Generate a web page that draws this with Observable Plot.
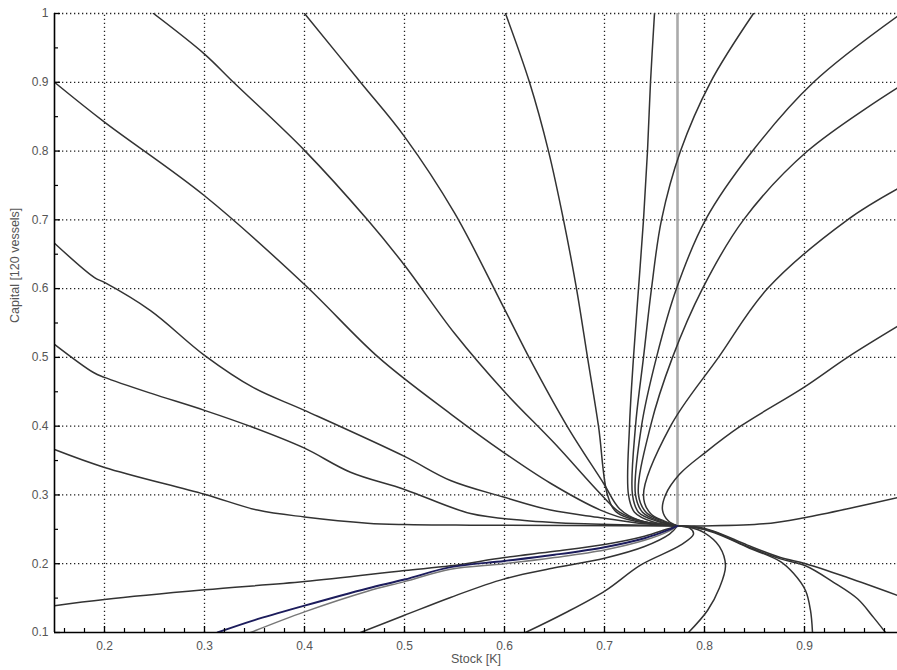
<!DOCTYPE html>
<html><head><meta charset="utf-8">
<script src="https://cdn.jsdelivr.net/npm/d3@7"></script>
<script src="https://cdn.jsdelivr.net/npm/@observablehq/plot@0.6"></script>
<style>html,body{margin:0;padding:0;background:#fff}</style>
</head><body><div id="chart"></div>
<script>
// axis ticks
const xTicks = [0.2, 0.3, 0.4, 0.5, 0.6, 0.7, 0.8, 0.9];
const yTicks = [0.1, 0.2, 0.3, 0.4, 0.5, 0.6, 0.7, 0.8, 0.9, 1];
const xMinor = [0.16, 0.18, 0.22, 0.24, 0.26, 0.28, 0.32, 0.34, 0.36, 0.38, 0.42, 0.44, 0.46, 0.48,
  0.52, 0.54, 0.56, 0.58, 0.62, 0.64, 0.66, 0.68, 0.72, 0.74, 0.76, 0.78, 0.82, 0.84, 0.86, 0.88,
  0.92, 0.94, 0.96, 0.98];
const yMinor = [0.15, 0.25, 0.35, 0.45, 0.55, 0.65, 0.75, 0.85, 0.95];
const xDomain = [0.15, 0.993];
const yDomain = [0.1, 1];

// stable manifold (gray vertical) through the equilibrium
const manifold = [[0.773, 0.255], [0.773, 1.0]];

// trajectories [stock, capital]
const trajA = [[0.249,1.0],[0.3,0.941],[0.329,0.9],[0.4,0.801],[0.463,0.70],[0.5,0.634],[0.55,0.535],[0.6,0.45],[0.65,0.375],[0.697,0.30],[0.715,0.275],[0.74,0.261],[0.773,0.255]];
const trajB = [[0.15,0.9],[0.2,0.842],[0.3,0.735],[0.4,0.606],[0.474,0.5],[0.546,0.418],[0.599,0.362],[0.646,0.317],[0.696,0.278],[0.73,0.262],[0.773,0.255]];
const trajC = [[0.15,0.666],[0.19,0.616],[0.2,0.609],[0.246,0.568],[0.3,0.503],[0.349,0.456],[0.4,0.423],[0.5,0.356],[0.546,0.321],[0.599,0.297],[0.646,0.278],[0.696,0.267],[0.74,0.258],[0.773,0.255]];
const trajD = [[0.15,0.519],[0.189,0.478],[0.2,0.471],[0.246,0.448],[0.3,0.423],[0.349,0.398],[0.4,0.368],[0.446,0.333],[0.5,0.308],[0.566,0.273],[0.62,0.263],[0.68,0.258],[0.773,0.255]];
const trajE = [[0.15,0.366],[0.2,0.340],[0.3,0.301],[0.353,0.278],[0.4,0.268],[0.463,0.259],[0.5,0.257],[0.566,0.256],[0.773,0.255]];
const trajF = [[0.4,1.0],[0.456,0.9],[0.5,0.821],[0.55,0.71],[0.599,0.573],[0.626,0.496],[0.663,0.399],[0.699,0.317],[0.715,0.28],[0.735,0.263],[0.773,0.255]];
const trajG = [[0.601,1.0],[0.625,0.9],[0.644,0.8],[0.659,0.7],[0.672,0.6],[0.683,0.5],[0.694,0.4],[0.703,0.3],[0.712,0.275],[0.735,0.262],[0.773,0.255]];
const trajH = [[0.75,1.0],[0.746,0.9],[0.743,0.8],[0.739,0.7],[0.734,0.6],[0.729,0.5],[0.725,0.4],[0.724,0.3],[0.73,0.275],[0.748,0.261],[0.773,0.255]];
const trajJ = [[0.849,1.0],[0.806,0.9],[0.776,0.8],[0.757,0.7],[0.747,0.6],[0.739,0.5],[0.731,0.4],[0.728,0.3],[0.734,0.275],[0.752,0.262],[0.773,0.255]];
const trajK = [[0.993,0.996],[0.909,0.9],[0.848,0.8],[0.801,0.7],[0.772,0.6],[0.752,0.5],[0.737,0.4],[0.731,0.3],[0.738,0.275],[0.755,0.262],[0.773,0.255]];
const trajL = [[0.993,0.892],[0.903,0.8],[0.839,0.7],[0.798,0.6],[0.768,0.5],[0.746,0.4],[0.734,0.3],[0.742,0.274],[0.758,0.262],[0.773,0.255]];
const trajM = [[0.993,0.745],[0.943,0.7],[0.863,0.6],[0.814,0.5],[0.766,0.4],[0.739,0.3],[0.746,0.273],[0.76,0.262],[0.773,0.255]];
const trajN = [[0.993,0.545],[0.943,0.5],[0.899,0.456],[0.836,0.4],[0.801,0.362],[0.775,0.33],[0.761,0.3],[0.758,0.278],[0.764,0.262],[0.773,0.255]];
const trajO = [[0.993,0.296],[0.95,0.282],[0.9,0.267],[0.859,0.258],[0.8,0.255],[0.773,0.255]];
const trajP = [[0.15,0.139],[0.2,0.148],[0.3,0.162],[0.4,0.174],[0.5,0.19],[0.546,0.197],[0.6,0.209],[0.65,0.218],[0.7,0.228],[0.74,0.24],[0.762,0.25],[0.773,0.255]];
const trajQ = [[0.313,0.1],[0.35,0.118],[0.4,0.139],[0.463,0.164],[0.5,0.177],[0.546,0.195],[0.6,0.204],[0.65,0.213],[0.7,0.224],[0.74,0.237],[0.762,0.248],[0.773,0.255]];
const trajQ2 = [[0.346,0.1],[0.4,0.130],[0.463,0.16],[0.5,0.174],[0.546,0.192],[0.6,0.2],[0.65,0.209],[0.7,0.22],[0.74,0.234],[0.764,0.247],[0.773,0.255]];
const trajR = [[0.456,0.1],[0.5,0.125],[0.546,0.151],[0.6,0.178],[0.65,0.194],[0.7,0.208],[0.74,0.225],[0.765,0.243],[0.773,0.255]];
const trajS = [[0.621,0.1],[0.66,0.128],[0.701,0.161],[0.736,0.198],[0.776,0.227],[0.789,0.243],[0.785,0.252],[0.773,0.255]];
const trajT = [[0.784,0.1],[0.803,0.132],[0.815,0.165],[0.821,0.197],[0.815,0.225],[0.8,0.245],[0.785,0.253],[0.773,0.255]];
const trajU = [[0.908,0.1],[0.906,0.132],[0.901,0.161],[0.889,0.186],[0.876,0.203],[0.843,0.224],[0.81,0.245],[0.79,0.253],[0.773,0.255]];
const trajV = [[0.981,0.1],[0.969,0.122],[0.953,0.149],[0.929,0.173],[0.901,0.197],[0.876,0.207],[0.843,0.225],[0.81,0.246],[0.79,0.253],[0.773,0.255]];
const trajW = [[0.993,0.154],[0.943,0.18],[0.901,0.2],[0.876,0.209],[0.843,0.227],[0.81,0.247],[0.79,0.254],[0.773,0.255]];

const darkTrajectories = [trajA, trajB, trajC, trajD, trajE, trajF, trajG, trajH, trajJ, trajK, trajL,
  trajM, trajN, trajO, trajP, trajR, trajS, trajT, trajU, trajV, trajW];

const W = 897, H = 670;
const mL = 54, mR = 0, mT = 13, mB = 38;
const xPerPx = (xDomain[1] - xDomain[0]) / (W - mL - mR);
const yPerPx = (yDomain[1] - yDomain[0]) / (H - mT - mB);
const majorLen = 6, minorLen = 4;

const lineOpts = {x: d => d[0], y: d => d[1], curve: "catmull-rom", stroke: "#333", strokeWidth: 1.5, clip: true};
const gridOpts = {stroke: "#222", strokeWidth: 1.3, strokeDasharray: "1.3,2.7"};

const marks = [
  Plot.ruleX(xTicks, {x: d => d, y1: yDomain[0], y2: yDomain[1], ...gridOpts}),
  Plot.ruleY(yTicks.filter(d => d > yDomain[0]), {y: d => d, x1: xDomain[0], x2: xDomain[1], ...gridOpts}),
  Plot.line(manifold, {...lineOpts, stroke: "#aaa", strokeWidth: 2.6, curve: "linear"}),
  ...darkTrajectories.map(t => Plot.line(t, lineOpts)),
  Plot.line(trajQ2, {...lineOpts, stroke: "#777"}),
  Plot.line(trajQ, {...lineOpts, stroke: "#1c1c5c", strokeWidth: 1.9}),
  // inward ticks
  Plot.ruleX(xTicks, {x: d => d, y1: yDomain[0], y2: yDomain[0] + majorLen * yPerPx, stroke: "#000", strokeWidth: 1.3}),
  Plot.ruleX(xMinor, {x: d => d, y1: yDomain[0], y2: yDomain[0] + minorLen * yPerPx, stroke: "#000", strokeWidth: 1.2}),
  Plot.ruleY(yTicks, {y: d => d, x1: xDomain[0], x2: xDomain[0] + majorLen * xPerPx, stroke: "#000", strokeWidth: 1.3}),
  Plot.ruleY(yMinor, {y: d => d, x1: xDomain[0], x2: xDomain[0] + minorLen * xPerPx, stroke: "#000", strokeWidth: 1.2}),
  // axis lines
  Plot.ruleX([xDomain[0]], {x: d => d, y1: yDomain[0], y2: yDomain[1], stroke: "#000", strokeWidth: 1.6}),
  Plot.ruleY([yDomain[0]], {y: d => d, x1: xDomain[0], x2: xDomain[1], stroke: "#000", strokeWidth: 1.6}),
  Plot.axisX({ticks: xTicks, tickSize: 0, tickPadding: 9, tickFormat: d => String(d), label: null, fill: "#555", fontSize: 12}),
  Plot.axisY({ticks: yTicks, tickSize: 0, tickPadding: 6, tickFormat: d => String(d), label: null, fill: "#555", fontSize: 12}),
  Plot.text(["Stock [K]"], {text: d => d, frameAnchor: "bottom", dy: 30, fill: "#555", fontSize: 12.5}),
  Plot.text(["Capital [120 vessels]"], {text: d => d, frameAnchor: "left", dx: -40, rotate: -90, fill: "#555", fontSize: 12.5})
];

const chart = Plot.plot({
  width: W, height: H,
  marginLeft: mL, marginRight: mR, marginTop: mT, marginBottom: mB,
  x: {domain: xDomain},
  y: {domain: yDomain},
  style: {fontFamily: "'Liberation Sans', Arial, sans-serif", background: "#fff", overflow: "visible"},
  marks
});
document.getElementById("chart").appendChild(chart);
</script>
</body></html>
